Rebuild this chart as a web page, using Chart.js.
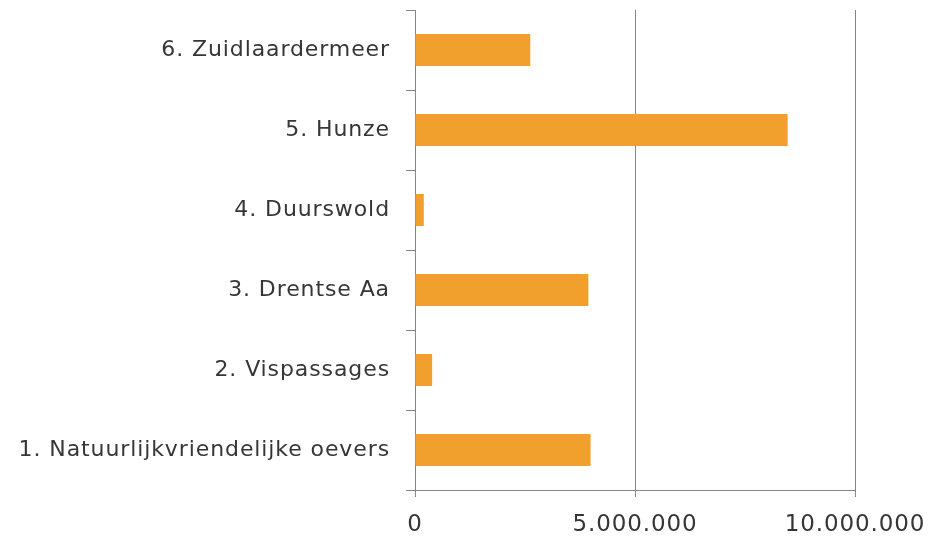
<!DOCTYPE html>
<html>
<head>
<meta charset="utf-8">
<script src="https://cdn.jsdelivr.net/npm/chart.js@4.4.1/dist/chart.umd.min.js"></script>
<style>
  html, body { margin: 0; padding: 0; background: #fff; }
  #wrap { width: 946px; height: 538px; }
</style>
</head>
<body>
<div id="wrap"><canvas id="kostenChart"></canvas></div>
<script>
// Categorieën van boven naar beneden
const categories = [
    '6. Zuidlaardermeer',
    '5. Hunze',
    '4. Duurswold',
    '3. Drentse Aa',
    '2. Vispassages',
    '1. Natuurlijkvriendelijke oevers'
];
const amounts = [2620000, 8470000, 200000, 3940000, 390000, 3990000];
const xTicks = [0, 5000000, 10000000];

const barColor = '#F1A02E';
const axisColor = '#858585';
const textColor = '#363636';

// 5000000 -> "5.000.000"
function dotted(v) {
    return String(v).replace(/\B(?=(\d{3})+(?!\d))/g, '.');
}

// iets ruimere letterafstand, zoals in het origineel
const spacing = {
    id: 'spacing',
    beforeInit: chart => { chart.ctx.letterSpacing = '0.9px'; },
    beforeDraw: chart => { chart.ctx.letterSpacing = '0.9px'; }
};

document.addEventListener('DOMContentLoaded', () => {
    const ctx = document.getElementById('kostenChart');
    new Chart(ctx, {
        type: 'bar',
        data: {
            labels: categories,
            datasets: [{
                data: amounts,
                backgroundColor: barColor,
                borderWidth: 0,
                barPercentage: 0.4,
                categoryPercentage: 1.0
            }]
        },
        plugins: [spacing],
        options: {
            indexAxis: 'y',
            responsive: true,
            maintainAspectRatio: false,
            animation: false,
            layout: { padding: { top: 10, right: 91, bottom: 0, left: 0 } },
            plugins: {
                legend: { display: false },
                tooltip: { enabled: false }
            },
            scales: {
                x: {
                    min: 0,
                    max: 10000000,
                    afterBuildTicks: scale => {
                        scale.ticks = xTicks.map(v => ({ value: v }));
                    },
                    afterFit: scale => {
                        scale.height = 48;
                        scale.paddingLeft = 0;
                        scale.paddingRight = 0;
                    },
                    grid: {
                        color: axisColor,
                        lineWidth: 1,
                        drawTicks: true,
                        tickLength: 7
                    },
                    border: { color: axisColor, width: 1 },
                    ticks: {
                        color: textColor,
                        padding: 14,
                        maxRotation: 0,
                        font: { family: 'DejaVu Sans', size: 23 },
                        callback: v => dotted(v)
                    }
                },
                y: {
                    afterFit: scale => {
                        scale.width = 415;
                        scale.paddingTop = 0;
                        scale.paddingBottom = 0;
                    },
                    grid: {
                        drawOnChartArea: false,
                        drawTicks: true,
                        tickLength: 9,
                        color: axisColor
                    },
                    border: { color: axisColor, width: 1 },
                    ticks: {
                        color: textColor,
                        padding: 16,
                        font: { family: 'DejaVu Sans', size: 22 }
                    }
                }
            }
        }
    });
});
</script>
</body>
</html>
